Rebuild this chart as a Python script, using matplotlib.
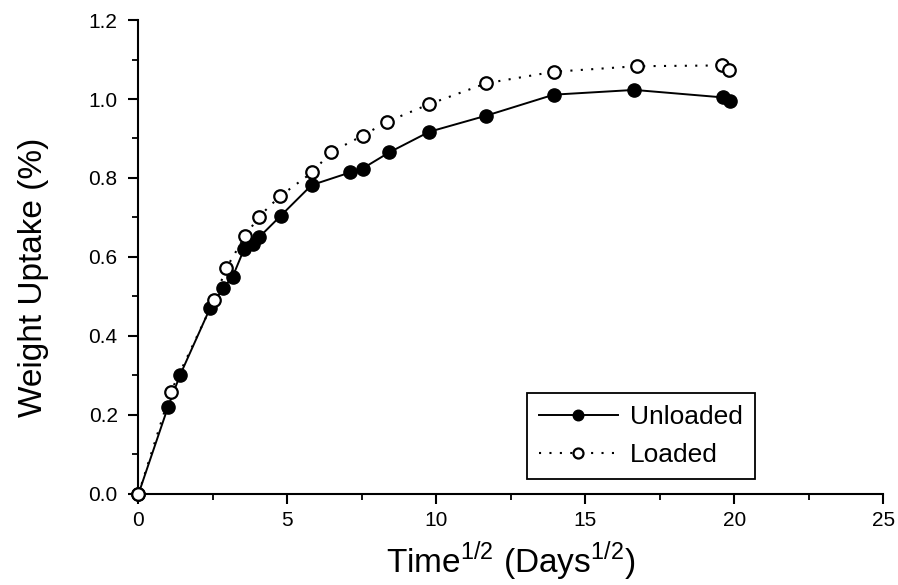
import matplotlib
matplotlib.use('Agg')
import matplotlib.pyplot as plt
from matplotlib.ticker import MultipleLocator

# sqrt(time) values and weight uptake
unloaded_x = [0, 0.99, 1.39, 2.40, 2.85, 3.16, 3.54, 3.85, 4.05, 4.77, 5.81,
              7.10, 7.52, 8.42, 9.76, 11.68, 13.94, 16.64, 19.62, 19.85]
unloaded_y = [0, 0.220, 0.300, 0.470, 0.522, 0.550, 0.619, 0.632, 0.650, 0.704, 0.782,
              0.814, 0.824, 0.865, 0.917, 0.958, 1.011, 1.023, 1.004, 0.994]

loaded_x = [0, 1.08, 2.54, 2.94, 3.57, 4.04, 4.75, 5.83, 6.45, 7.52, 8.33,
            9.76, 11.68, 13.94, 16.72, 19.60, 19.83]
loaded_y = [0, 0.258, 0.491, 0.571, 0.652, 0.702, 0.754, 0.814, 0.865, 0.907, 0.942,
            0.987, 1.040, 1.069, 1.083, 1.085, 1.074]

plt.rcParams['font.family'] = ['Liberation Sans', 'DejaVu Sans']
plt.rcParams['mathtext.fontset'] = 'custom'
plt.rcParams['mathtext.rm'] = 'Liberation Sans'

fig = plt.figure(figsize=(8.98, 5.85), dpi=100)
ax = fig.add_axes([0.1542, 0.1556, 0.8295, 0.8102])

ax.plot(unloaded_x, unloaded_y, color='black', linestyle='-', linewidth=1.4,
        marker='o', markersize=9.5, markerfacecolor='black', markeredgecolor='black',
        label='Unloaded', clip_on=False, zorder=4)
ax.plot(loaded_x, loaded_y, color='black', linestyle=(0, (1, 4)), linewidth=1.5,
        marker='o', markersize=9, markerfacecolor='white', markeredgecolor='black',
        markeredgewidth=1.6, label='Loaded', clip_on=False, zorder=5)

ax.set_xlim(0, 25)
ax.set_ylim(0, 1.2)
ax.xaxis.set_major_locator(MultipleLocator(5))
ax.xaxis.set_minor_locator(MultipleLocator(2.5))
ax.yaxis.set_major_locator(MultipleLocator(0.2))
ax.yaxis.set_minor_locator(MultipleLocator(0.1))
ax.yaxis.set_major_formatter(plt.FormatStrFormatter('%.1f'))

for side in ['top', 'right']:
    ax.spines[side].set_visible(False)
for side in ['left', 'bottom']:
    ax.spines[side].set_linewidth(1.5)
ax.tick_params(which='major', direction='out', length=7, width=1.5, labelsize=15)
ax.tick_params(which='minor', direction='out', length=4, width=1.3)
ax.tick_params(axis='x', which='major', pad=5.5)
ax.tick_params(axis='y', which='major', pad=8)

ax.set_xlabel(r'Time$^{\mathregular{1/2}}$ (Days$^{\mathregular{1/2}}$)', fontsize=24)
ax.set_ylabel('Weight Uptake (%)', fontsize=24)
ax.xaxis.set_label_coords(0.5, -0.097)
ax.yaxis.set_label_coords(-0.12, 0.458)

leg = ax.legend(loc='lower left', bbox_to_anchor=(0.5216, 0.031), fontsize=19,
                frameon=True, fancybox=False, handlelength=3.0, handletextpad=0.45,
                borderpad=0.45, labelspacing=0.55, markerscale=0.8, borderaxespad=0)
leg.get_frame().set_edgecolor('black')
leg.get_frame().set_linewidth(1.3)
leg.get_frame().set_alpha(1)
leg.set_zorder(6)

fig.savefig('out.png', dpi=100)
